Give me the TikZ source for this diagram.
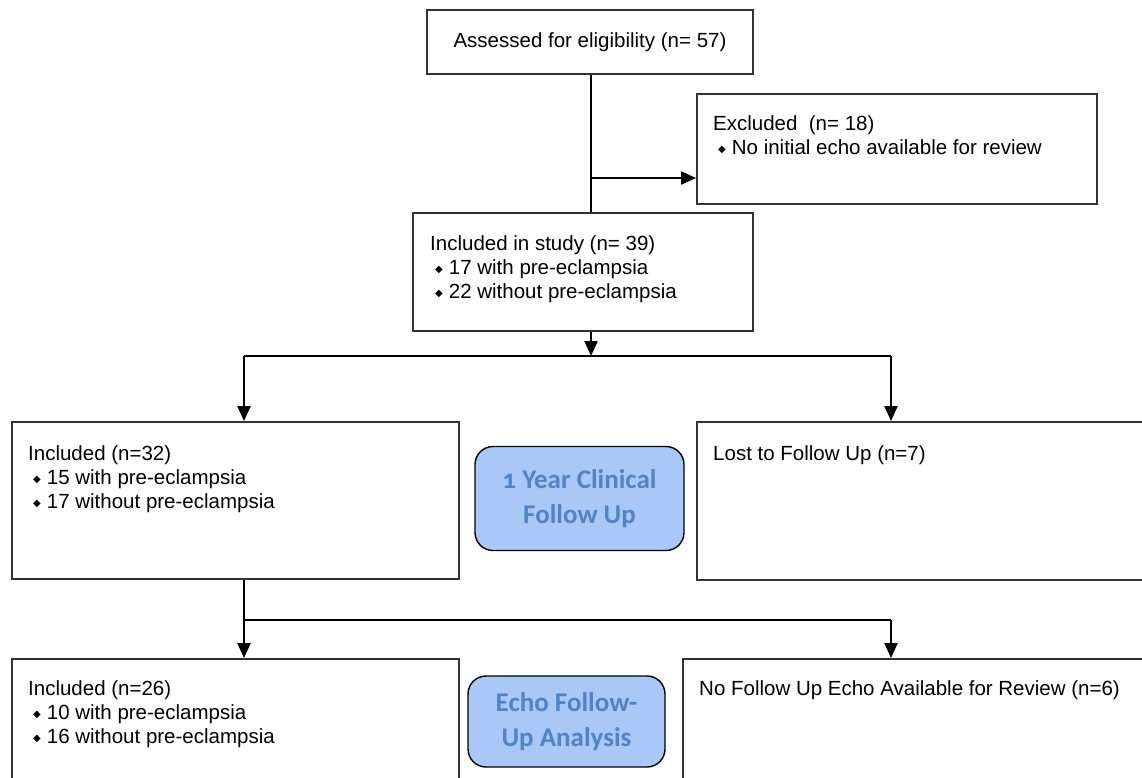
\documentclass[tikz,border=0pt]{standalone}
\usepackage{fontspec}
\setmainfont{Liberation Sans}
\newfontfamily\calib[Numbers=OldStyle]{Carlito}
\newfontfamily\symf{DejaVu Sans}
\usetikzlibrary{arrows.meta}
\definecolor{boxline}{HTML}{333333}
\definecolor{fufill}{HTML}{A9C7F7}
\definecolor{futext}{HTML}{5283C2}
\newcommand{\bul}{\hspace*{5pt}\raisebox{2pt}{\symf\fontsize{10}{10}\selectfont ◆}\hspace{6pt}}
\begin{document}
\begin{tikzpicture}[x=1pt,y=-1pt,
  box/.style={draw=boxline, line width=1.9pt, rectangle, inner sep=0pt},
  txt/.style={anchor=north west, align=left, inner sep=0pt, font=\fontsize{20.5}{24}\selectfont},
  fubox/.style={draw=black, line width=1.4pt, fill=fufill, rounded corners=18pt,
     font=\calib\bfseries\fontsize{27}{35}\selectfont, text=futext, align=center, inner sep=0pt},
  conn/.style={line width=2.1pt, black},
  arr/.style={conn, -{Triangle[length=15pt,width=13pt]}}]
\useasboundingbox (0,0) rectangle (1142,777);
\fill[white] (0,0) rectangle (1142,777);

% boxes
\node[box, minimum width=326pt, minimum height=64pt, font=\fontsize{20.5}{24}\selectfont] (assess) at (590,42) {Assessed for eligibility (n= 57)};
\node[box, minimum width=400pt, minimum height=110pt] (excl) at (897,149) {};
\node[box, minimum width=340pt, minimum height=118pt] (study) at (583,272) {};
\node[box, minimum width=447pt, minimum height=157pt] (inc32) at (235.5,500.5) {};
\node[box, minimum width=463pt, minimum height=158pt] (lost) at (928.5,501) {};
\node[box, minimum width=447pt, minimum height=141pt] (inc26) at (235.5,729.5) {};
\node[box, minimum width=477pt, minimum height=141pt] (noecho) at (921.5,729.5) {};

\node[fubox, minimum width=209pt, minimum height=104pt] (fu1) at (579.5,498.5) {1 Year Clinical\\Follow Up};
\node[fubox, minimum width=197pt, minimum height=91pt] (fu2) at (566.5,721.5) {Echo Follow-\\Up Analysis};

% texts
\node[txt] (exclt) at (713,115) {Excluded\ \ (n= 18)\\\bul No initial echo available for review};
\node[txt] (studyt) at (430,235) {Included in study (n= 39)\\\bul 17 with pre-eclampsia\\\bul 22 without pre-eclampsia};
\node[txt] (inc32t) at (28,445) {Included (n=32)\\\bul 15 with pre-eclampsia\\\bul 17 without pre-eclampsia};
\node[txt] (lostt) at (713,445) {Lost to Follow Up (n=7)};
\node[txt] (inc26t) at (28,680) {Included (n=26)\\\bul 10 with pre-eclampsia\\\bul 16 without pre-eclampsia};
\node[txt] (noechot) at (699,680) {No Follow Up Echo Available for Review (n=6)};

% connectors
\coordinate (b1) at (591,178);
\coordinate (j1) at (591,356);
\draw[conn] (b1 |- assess.south) -- (b1 |- study.north);
\draw[arr] (b1) -- (b1 -| excl.west);
\draw[arr] (j1 |- study.south) -- (j1);
\coordinate (jl) at (244,356);
\coordinate (jr) at (891,356);
\draw[conn] (jl) -- (jr);
\draw[arr] (jl) -- (jl |- inc32.north);
\draw[arr] (jr) -- (jr |- lost.north);
\coordinate (j2) at (244,620);
\coordinate (j2r) at (891,620);
\draw[arr] (jl |- inc32.south) -- (jl |- inc26.north);
\draw[conn] (j2) -- (j2r);
\draw[arr] (j2r) -- (j2r |- noecho.north);
\end{tikzpicture}
\end{document}
